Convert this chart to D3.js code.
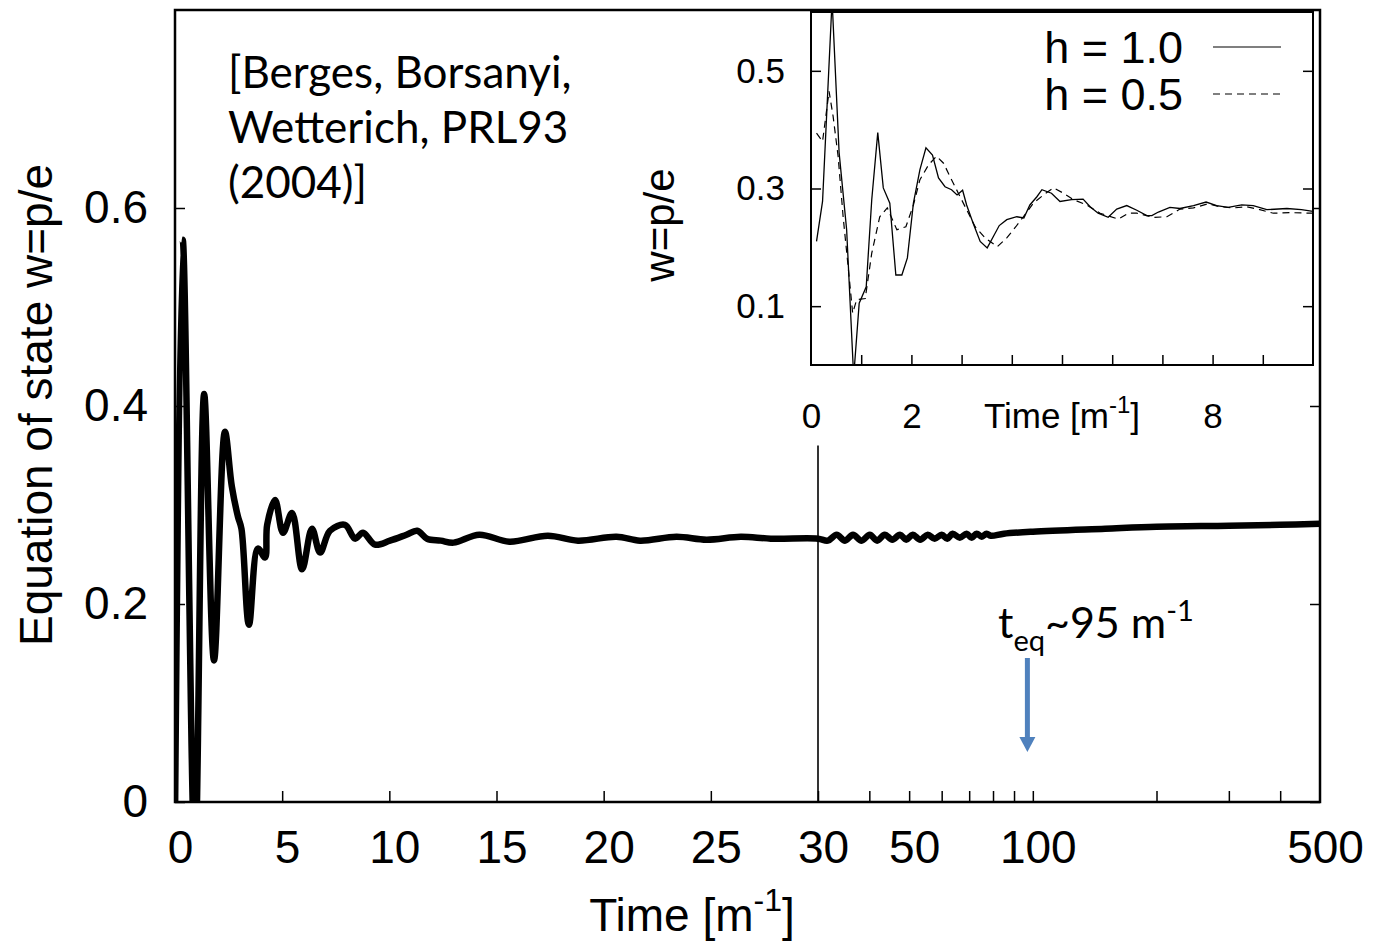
<!DOCTYPE html>
<html>
<head>
<meta charset="utf-8">
<script src="https://cdn.jsdelivr.net/npm/d3@7/dist/d3.min.js"></script>
<style>
body { margin: 0; background: #fff; }
text { fill: #000; }
</style>
</head>
<body>
<svg id="chart" width="1373" height="942"></svg>
<script>
// main curve: time [1/m] and w = p/e
var mainTime = [0, 0.36, 0.93, 1.36, 1.82, 2.33, 2.65, 2.94, 3.1, 3.45, 3.87, 4.2, 4.3, 4.67, 5.04, 5.46, 5.93, 6.39, 6.77, 7.23, 7.93, 8.4, 8.77, 9.33, 10.03, 10.8, 11.3, 11.76, 12.4, 13.0, 14.2, 15.6, 17.4, 18.8, 20.6, 21.7, 23.4, 24.8, 26.4, 27.8, 30,
  31.7, 33.3, 34.9, 36.5, 38.3, 40.1, 41.8, 43.6, 45.5, 47.5, 49.2, 51.0, 53.2, 55.5, 57.7, 60.0, 61.9, 63.8, 66.4, 69.0, 71.0, 73.0, 75.1, 77.2, 79.0, 85, 100, 150, 200, 300, 400, 500];
var mainW = [-0.02, 0.568, -0.06, 0.412, 0.143, 0.374, 0.319, 0.288, 0.276, 0.179, 0.256, 0.247, 0.28, 0.305, 0.272, 0.292, 0.235, 0.276, 0.252, 0.274, 0.28, 0.266, 0.272, 0.26, 0.264, 0.27, 0.274, 0.266, 0.264, 0.262, 0.270, 0.263, 0.269, 0.264, 0.268, 0.264, 0.268, 0.265, 0.268, 0.266, 0.266,
  0.264, 0.270, 0.264, 0.270, 0.264, 0.270, 0.264, 0.270, 0.265, 0.270, 0.265, 0.270, 0.265, 0.270, 0.266, 0.270, 0.266, 0.271, 0.267, 0.271, 0.267, 0.271, 0.268, 0.271, 0.269, 0.271, 0.273, 0.276, 0.278, 0.279, 0.280, 0.281];

// inset, h = 1.0 (solid)
var insetTimeA = [0.11, 0.23, 0.42, 0.56, 0.71, 0.85, 0.96, 1.10, 1.21, 1.33, 1.44, 1.57, 1.69, 1.81, 1.92, 2.04, 2.17, 2.29, 2.42, 2.54, 2.67, 2.80, 2.91, 3.02, 3.10, 3.23, 3.37, 3.51, 3.63, 3.75, 3.90, 4.10, 4.24, 4.36, 4.50, 4.60, 4.79, 4.96, 5.19, 5.42, 5.56, 5.72, 5.92, 6.09, 6.29, 6.49, 6.69, 6.79, 6.92, 7.15, 7.35, 7.62, 7.87, 8.08, 8.31, 8.58, 8.81, 9.08, 9.48, 9.77, 10.0];
var insetWA = [0.210, 0.278, 0.62, 0.361, 0.230, -0.02, 0.105, 0.133, 0.281, 0.395, 0.301, 0.275, 0.153, 0.153, 0.182, 0.275, 0.332, 0.369, 0.357, 0.318, 0.303, 0.298, 0.289, 0.297, 0.272, 0.241, 0.210, 0.199, 0.218, 0.237, 0.247, 0.252, 0.250, 0.272, 0.286, 0.298, 0.292, 0.278, 0.281, 0.282, 0.269, 0.258, 0.251, 0.265, 0.271, 0.263, 0.254, 0.254, 0.260, 0.268, 0.266, 0.271, 0.277, 0.271, 0.268, 0.272, 0.271, 0.264, 0.266, 0.264, 0.261];

// inset, h = 0.5 (dashed)
var insetTimeB = [0.11, 0.23, 0.36, 0.44, 0.54, 0.64, 0.74, 0.83, 0.91, 1.08, 1.21, 1.37, 1.52, 1.71, 1.89, 2.04, 2.17, 2.34, 2.50, 2.64, 2.80, 2.97, 3.10, 3.27, 3.47, 3.71, 3.90, 4.08, 4.23, 4.43, 4.63, 4.83, 5.03, 5.23, 5.49, 5.76, 6.12, 6.32, 6.49, 6.82, 7.09, 7.35, 7.62, 7.91, 8.15, 8.41, 8.68, 8.94, 9.21, 9.54, 10.0];
var insetWB = [0.394, 0.380, 0.465, 0.423, 0.355, 0.252, 0.167, 0.088, 0.111, 0.113, 0.190, 0.252, 0.267, 0.230, 0.235, 0.272, 0.315, 0.340, 0.355, 0.343, 0.315, 0.286, 0.264, 0.235, 0.216, 0.201, 0.216, 0.235, 0.252, 0.275, 0.289, 0.301, 0.292, 0.281, 0.272, 0.258, 0.248, 0.258, 0.258, 0.251, 0.252, 0.265, 0.267, 0.274, 0.269, 0.267, 0.269, 0.264, 0.258, 0.259, 0.258];

var linTicks = [0, 5, 10, 15, 20, 25, 30];
var logTicks = [40, 50, 60, 70, 80, 90, 100, 200, 300, 400];
var logLabels = [50, 100, 500];
var yTicks = [0, 0.2, 0.4, 0.6];
var insetXTicks = [1, 2, 3, 4, 5, 6, 7, 8, 9];
var insetXLabels = [0, 2, 8];
var insetYTicks = [0.1, 0.3, 0.5];
var legendNames = ["h = 1.0", "h = 0.5"];
var arrowTime = 97;

var svg = d3.select("#chart");
var SANS = "'Liberation Sans', Arial, sans-serif";
var CAL = "Lato, 'Open Sans', sans-serif";

var L = 175, R = 1320, T = 10, B = 802;
var xLin = d3.scaleLinear().domain([0, 30]).range([L, 818]);
var xLog = d3.scaleLog().domain([30, 500]).range([818, R]);
function xMain(t) { return t <= 30 ? xLin(t) : xLog(t); }
var y = d3.scaleLinear().domain([0, 0.8]).range([B, T]);

var defs = svg.append("defs");
defs.append("clipPath").attr("id", "clipMain").append("rect")
  .attr("x", L).attr("y", T).attr("width", R - L).attr("height", B - T);

// main curve
var mainData = mainTime.map(function(t, i) { return [t, mainW[i]]; });
svg.append("path").datum(mainData)
  .attr("clip-path", "url(#clipMain)")
  .attr("fill", "none").attr("stroke", "#000").attr("stroke-width", 6.5)
  .attr("stroke-linejoin", "round")
  .attr("d", d3.line().x(function(d) { return xMain(d[0]); }).y(function(d) { return y(d[1]); })
    .curve(d3.curveCatmullRom.alpha(0.5)));

// divider at t = 30
svg.append("line").attr("x1", xLin(30)).attr("x2", xLin(30))
  .attr("y1", y(0.36)).attr("y2", B).attr("stroke", "#000").attr("stroke-width", 1.6);

// axes
function styleAxis(g, size) {
  g.select(".domain").remove();
  g.selectAll("line").attr("stroke", "#000").attr("stroke-width", 1.5);
  g.selectAll("text").attr("font-family", SANS).attr("font-size", size).attr("fill", "#000");
}
svg.append("g").attr("transform", "translate(0," + B + ")")
  .call(d3.axisBottom(xLin).tickValues(linTicks).tickSizeInner(-11).tickSizeOuter(0).tickPadding(28).tickFormat(d3.format("d")))
  .call(styleAxis, 46)
  .selectAll("text").attr("dx", 5);
svg.append("g").attr("transform", "translate(0," + B + ")")
  .call(d3.axisBottom(xLog).tickValues(logTicks).tickSizeInner(-11).tickSizeOuter(0).tickPadding(28).tickFormat(function() { return ""; }))
  .call(styleAxis, 46);
svg.append("g").attr("transform", "translate(0," + B + ")")
  .call(d3.axisBottom(xLog).tickValues(logLabels).tickSize(0).tickPadding(28).tickFormat(d3.format("d")))
  .call(styleAxis, 46)
  .selectAll("text").attr("dx", 5);
svg.append("g").attr("transform", "translate(" + L + ",0)")
  .call(d3.axisLeft(y).tickValues(yTicks).tickSizeInner(-10).tickSizeOuter(0).tickPadding(27).tickFormat(function(d) { return d === 0 ? "0" : d3.format(".1f")(d); }))
  .call(styleAxis, 46);
svg.append("g").attr("transform", "translate(" + R + ",0)")
  .call(d3.axisRight(y).tickValues(yTicks).tickSizeInner(-10).tickSizeOuter(0).tickFormat(function() { return ""; }))
  .call(styleAxis, 46);

svg.append("rect").attr("x", L).attr("y", T).attr("width", R - L).attr("height", B - T)
  .attr("fill", "none").attr("stroke", "#000").attr("stroke-width", 2.5);

// axis titles
svg.append("text").attr("transform", "translate(52,405) rotate(-90)")
  .attr("text-anchor", "middle").attr("font-family", SANS).attr("font-size", 46)
  .text("Equation of state w=p/e");
var xt = svg.append("text").attr("x", 692).attr("y", 931).attr("text-anchor", "middle")
  .attr("font-family", SANS).attr("font-size", 46);
xt.append("tspan").text("Time [m");
xt.append("tspan").attr("dy", -20).attr("font-size", 32).text("-1");
xt.append("tspan").attr("dy", 20).text("]");

// citation
var cite = ["[Berges, Borsanyi,", "Wetterich, PRL93", "(2004)]"];
svg.append("g").selectAll("text").data(cite).enter().append("text")
  .attr("x", 228).attr("y", function(d, i) { return 88 + i * 55; })
  .attr("font-family", CAL).attr("font-size", 44).text(function(d) { return d; });

// t_eq annotation
var ta = svg.append("text").attr("x", 998).attr("y", 638).attr("font-family", CAL).attr("font-size", 43);
ta.append("tspan").text("t");
ta.append("tspan").attr("dy", 13).attr("font-size", 29).text("eq");
ta.append("tspan").attr("dy", -13).text("~95 m");
ta.append("tspan").attr("dy", -17).attr("font-size", 29).text("-1");
var ax = xLog(arrowTime);
svg.append("line").attr("x1", ax).attr("x2", ax).attr("y1", 658).attr("y2", 740)
  .attr("stroke", "#4f81bd").attr("stroke-width", 5);
svg.append("path").attr("d", "M" + (ax - 8) + ",737L" + (ax + 8) + ",737L" + ax + ",752Z").attr("fill", "#4f81bd");

// ---- inset ----
var IL = 811, IR = 1313, IT = 12, IB = 365;
var ix = d3.scaleLinear().domain([0, 10]).range([IL, IR]);
var iy = d3.scaleLinear().domain([0, 0.6]).range([IB, IT]);
defs.append("clipPath").attr("id", "clipInset").append("rect")
  .attr("x", IL).attr("y", IT).attr("width", IR - IL).attr("height", IB - IT);

svg.append("rect").attr("x", IL).attr("y", IT).attr("width", IR - IL).attr("height", IB - IT).attr("fill", "#fff");

var iline = d3.line().x(function(d) { return ix(d[0]); }).y(function(d) { return iy(d[1]); });
svg.append("path").datum(insetTimeB.map(function(t, i) { return [t, insetWB[i]]; }))
  .attr("clip-path", "url(#clipInset)").attr("fill", "none").attr("stroke", "#000")
  .attr("stroke-width", 1.2).attr("stroke-dasharray", "7,5").attr("d", iline);
svg.append("path").datum(insetTimeA.map(function(t, i) { return [t, insetWA[i]]; }))
  .attr("clip-path", "url(#clipInset)").attr("fill", "none").attr("stroke", "#000")
  .attr("stroke-width", 1.3).attr("d", iline);

svg.append("g").attr("transform", "translate(0," + IB + ")")
  .call(d3.axisBottom(ix).tickValues(insetXTicks).tickSizeInner(-10).tickSizeOuter(0).tickFormat(function() { return ""; }))
  .call(styleAxis, 35);
svg.append("g").attr("transform", "translate(0," + IB + ")")
  .call(d3.axisBottom(ix).tickValues(insetXLabels).tickSize(0).tickPadding(38).tickFormat(d3.format("d")))
  .call(styleAxis, 35);
svg.append("g").attr("transform", "translate(" + IL + ",0)")
  .call(d3.axisLeft(iy).tickValues(insetYTicks).tickSizeInner(-10).tickSizeOuter(0).tickPadding(26).tickFormat(d3.format(".1f")))
  .call(styleAxis, 35);
svg.append("g").attr("transform", "translate(" + IR + ",0)")
  .call(d3.axisRight(iy).tickValues(insetYTicks).tickSizeInner(-10).tickSizeOuter(0).tickFormat(function() { return ""; }))
  .call(styleAxis, 35);
svg.append("rect").attr("x", IL).attr("y", IT).attr("width", IR - IL).attr("height", IB - IT)
  .attr("fill", "none").attr("stroke", "#000").attr("stroke-width", 2);

var it = svg.append("text").attr("x", 1062).attr("y", 428).attr("text-anchor", "middle")
  .attr("font-family", SANS).attr("font-size", 35);
it.append("tspan").text("Time [m");
it.append("tspan").attr("dy", -15).attr("font-size", 24).text("-1");
it.append("tspan").attr("dy", 15).text("]");
svg.append("text").attr("transform", "translate(674,225) rotate(-90)")
  .attr("text-anchor", "middle").attr("font-family", SANS).attr("font-size", 42).text("w=p/e");

// legend
var leg = svg.append("g").selectAll("g").data(legendNames).enter().append("g")
  .attr("transform", function(d, i) { return "translate(0," + (i * 47) + ")"; });
leg.append("text").attr("x", 1183).attr("y", 63).attr("text-anchor", "end")
  .attr("font-family", SANS).attr("font-size", 45).text(function(d) { return d; });
leg.append("line").attr("x1", 1213).attr("x2", 1281).attr("y1", 47).attr("y2", 47)
  .attr("stroke", "#000").attr("stroke-width", 1.2)
  .attr("stroke-dasharray", function(d, i) { return i ? "7,5" : null; });
</script>
</body>
</html>
